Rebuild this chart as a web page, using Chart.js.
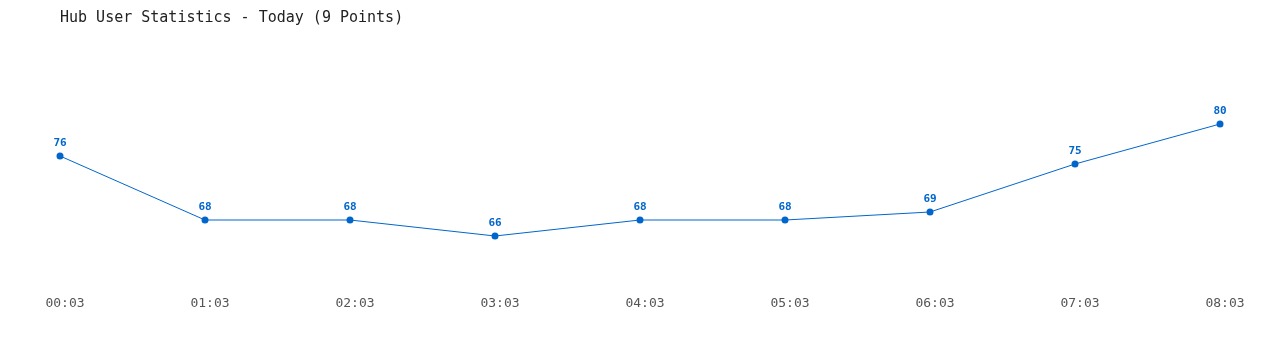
<!DOCTYPE html>
<html lang="en">
<head>
<meta charset="UTF-8">
<title>Hub User Statistics</title>
<script src="https://cdn.jsdelivr.net/npm/chart.js"></script>
<style>
  body { margin: 0; background: #fff; }
  #wrap { position: relative; width: 1280px; height: 350px; }
  #title { position: absolute; left: 60px; top: 8px; font: 15px "DejaVu Sans Mono", monospace; color: #222; }
</style>
</head>
<body>
<div id="wrap">
  <div id="title">Hub User Statistics - Today (9 Points)</div>
  <canvas id="chart" width="1280" height="350"></canvas>
</div>
<script>
const labels = ['00:03', '01:03', '02:03', '03:03', '04:03', '05:03', '06:03', '07:03', '08:03'];
const users = [76, 68, 68, 66, 68, 68, 69, 75, 80];

// draws the value above each point
const valueLabels = {
  id: 'valueLabels',
  afterDatasetsDraw(chart) {
    const ctx = chart.ctx;
    const meta = chart.getDatasetMeta(0);
    ctx.save();
    ctx.font = 'bold 11px "DejaVu Sans Mono", monospace';
    ctx.fillStyle = '#0066cc';
    ctx.textAlign = 'center';
    ctx.textBaseline = 'middle';
    meta.data.forEach((pt, i) => {
      ctx.fillText(users[i], pt.x, pt.y - 13);
    });
    ctx.restore();
  }
};

new Chart(document.getElementById('chart'), {
  type: 'line',
  data: {
    labels: labels,
    datasets: [{
      data: users,
      borderColor: '#0066cc',
      backgroundColor: '#0066cc',
      borderWidth: 1,
      pointRadius: 3.5,
      pointBorderWidth: 0,
      tension: 0
    }]
  },
  options: {
    responsive: false,
    animation: false,
    layout: { padding: { left: 60, right: 60, top: 44, bottom: 26 } },
    plugins: { legend: { display: false }, tooltip: { enabled: false } },
    scales: {
      x: {
        offset: false,
        grid: { display: false, drawTicks: false },
        border: { display: false },
        ticks: {
          padding: 12,
          labelOffset: 5,
          maxRotation: 0,
          autoSkip: false,
          color: '#555',
          font: { family: '"DejaVu Sans Mono", monospace', size: 13 }
        },
        afterFit(scale) { scale.height = 40; }
      },
      y: { display: false, min: 60, max: 90 }
    }
  },
  plugins: [valueLabels]
});
</script>
</body>
</html>
